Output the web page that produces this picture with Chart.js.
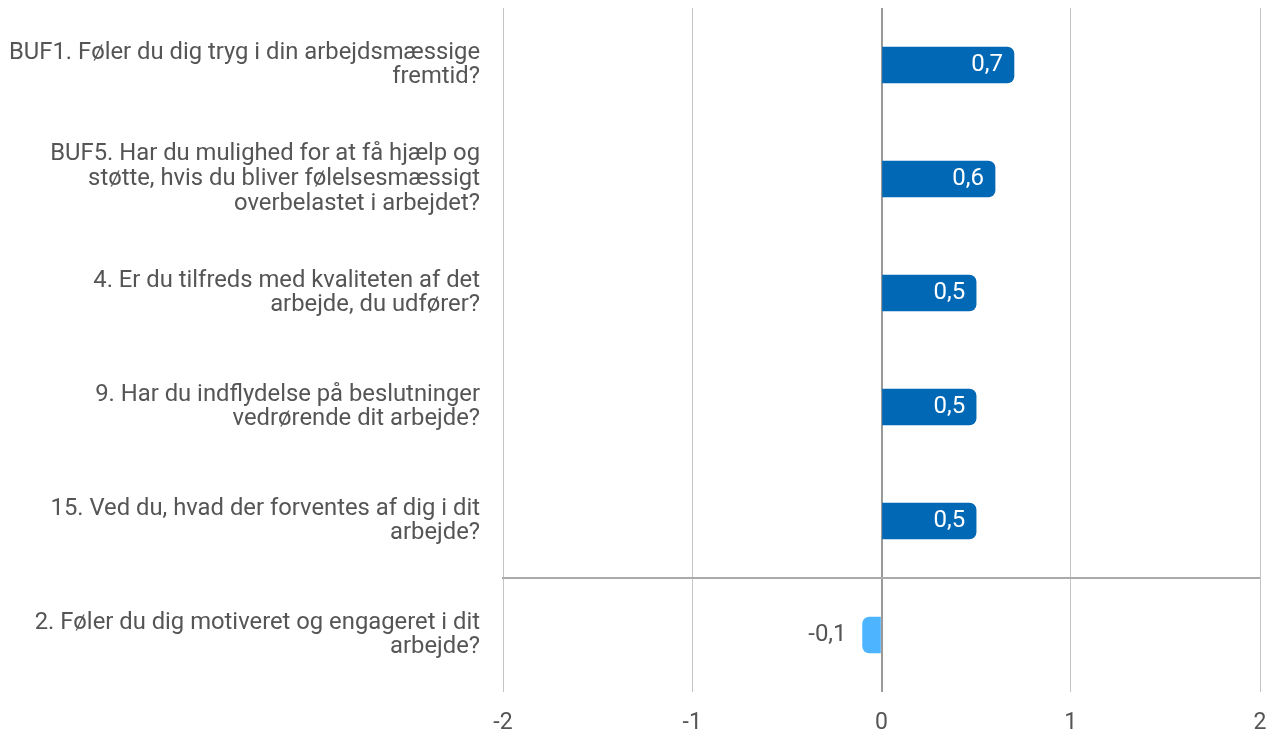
<!DOCTYPE html>
<html>
<head>
<meta charset="utf-8">
<script src="https://cdn.jsdelivr.net/npm/chart.js@4/dist/chart.umd.min.js"></script>
<style>
  html, body { margin: 0; padding: 0; background: #fff; }
  #wrap { width: 1273px; height: 731px; }
</style>
</head>
<body>
<div id="wrap"><canvas id="chart" width="1273" height="731"></canvas></div>
<script>
const questions = [
  ["BUF1. Føler du dig tryg i din arbejdsmæssige", "fremtid?"],
  ["BUF5. Har du mulighed for at få hjælp og", "støtte, hvis du bliver følelsesmæssigt", "overbelastet i arbejdet?"],
  ["4. Er du tilfreds med kvaliteten af det", "arbejde, du udfører?"],
  ["9. Har du indflydelse på beslutninger", "vedrørende dit arbejde?"],
  ["15. Ved du, hvad der forventes af dig i dit", "arbejde?"],
  ["2. Føler du dig motiveret og engageret i dit", "arbejde?"]
];
const scores = [0.7, 0.6, 0.5, 0.5, 0.5, -0.1];
const xTicks = [-2, -1, 0, 1, 2];
const dividerAfter = 4; // line between positive block and the last item

const fmt = v => String(v).replace(".", ",");

const valueLabels = {
  id: "valueLabels",
  afterDatasetsDraw(chart) {
    const c = chart.ctx;
    const meta = chart.getDatasetMeta(0);
    c.save();
    c.font = "24px Roboto";
    c.textBaseline = "middle";
    meta.data.forEach((bar, i) => {
      const v = scores[i];
      c.textAlign = "right";
      if (v >= 0) {
        c.fillStyle = "#ffffff";
        c.fillText(fmt(v), bar.x - 11, bar.y);
      } else {
        c.fillStyle = "#555555";
        c.fillText(fmt(v), bar.x - 16, bar.y);
      }
    });
    c.restore();
  }
};

const divider = {
  id: "divider",
  beforeDatasetsDraw(chart) {
    const y = chart.scales.y;
    const a = chart.chartArea;
    const pos = (y.getPixelForValue(dividerAfter) + y.getPixelForValue(dividerAfter + 1)) / 2;
    const c = chart.ctx;
    c.save();
    c.strokeStyle = "#aaaaaa";
    c.lineWidth = 2;
    c.beginPath();
    c.moveTo(a.left - 1, pos);
    c.lineTo(a.right, pos);
    c.stroke();
    c.restore();
  }
};

new Chart(document.getElementById("chart"), {
  type: "bar",
  data: {
    labels: questions,
    datasets: [{
      data: scores,
      backgroundColor: scores.map(v => v >= 0 ? "#0068b4" : "#4db5ff"),
      borderRadius: 7,
      borderSkipped: "start",
      barThickness: 36
    }]
  },
  options: {
    indexAxis: "y",
    responsive: false,
    animation: false,
    layout: { padding: { top: 8, right: 13, bottom: 0, left: 0 } },
    plugins: { legend: { display: false }, tooltip: { enabled: false } },
    scales: {
      x: {
        min: -2,
        max: 2,
        afterBuildTicks: s => { s.ticks = xTicks.map(v => ({ value: v })); },
        afterFit: s => { s.paddingLeft = 0; s.paddingRight = 0; s.height = 39; },
        grid: {
          color: ctx => ctx.tick && ctx.tick.value === 0 ? "#999999" : "#c4c4c4",
          lineWidth: ctx => ctx.tick && ctx.tick.value === 0 ? 2 : 1,
          drawTicks: false
        },
        border: { display: false },
        ticks: { color: "#555555", font: { family: "Roboto", size: 23 }, padding: 17 }
      },
      y: {
        grid: { display: false, drawTicks: false },
        border: { display: false },
        afterFit: s => { s.width = 503; s.paddingTop = 0; s.paddingBottom = 0; },
        ticks: {
          color: "#555555",
          font: { family: "Roboto", size: 23.8, lineHeight: 1.04 },
          padding: 23
        }
      }
    }
  },
  plugins: [divider, valueLabels]
});
</script>
</body>
</html>
